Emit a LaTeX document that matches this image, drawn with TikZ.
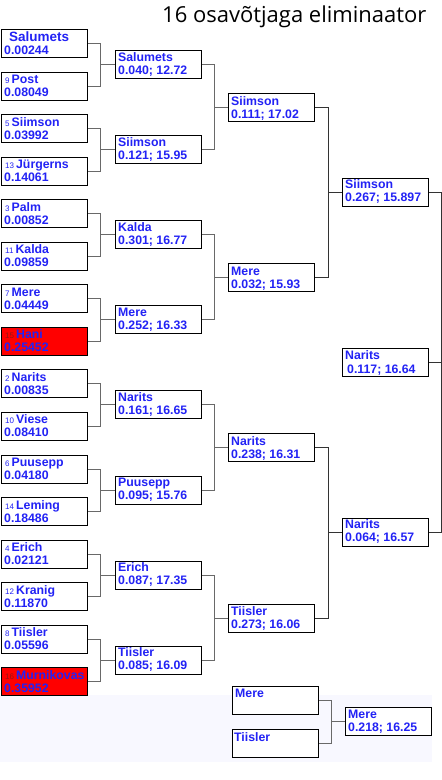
\documentclass[tikz,border=0pt]{standalone}
\usepackage{fontspec}
\setmainfont{Liberation Sans}
\newfontfamily\titlefont{Open Sans}
\usetikzlibrary{calc}
\definecolor{nameblue}{RGB}{34,34,245}
\definecolor{seedred}{RGB}{150,20,20}
\definecolor{lavender}{RGB}{248,248,255}
\definecolor{wiregray}{RGB}{105,105,105}
\newcommand{\seed}[1]{{\normalfont\fontsize{8}{9}\selectfont #1}\,}

\begin{document}
\begin{tikzpicture}[x=1pt,y=1pt,
  cell/.style={draw, line width=0.9pt, anchor=north west, minimum width=86pt, minimum height=28pt, inner sep=0pt},
  nm/.style={anchor=base west, inner sep=0pt, text=nameblue, font=\bfseries\fontsize{12.3}{14}\selectfont},
  wire/.style={draw=wiregray, line width=0.9pt},
  wire dark/.style={draw=black!80, line width=0.9pt}]
\useasboundingbox (0,0) rectangle (442,-780);
\fill[lavender] (0,-695) rectangle (432,-762);
\node[anchor=base west, inner sep=0pt, font=\titlefont\fontsize{22}{26}\selectfont] (title) at (162,-22) {16 osavõtjaga eliminaator};

% first round
\foreach \i/\pl/\sc/\fc in {0/{\hspace{4pt}\fontsize{13.5}{14}\selectfont Salumets}/0.00244/white,
  1/{\seed{9}Post}/0.08049/white, 2/{\seed{5}Siimson}/0.03992/white,
  3/{\seed{13}Jürgerns}/0.14061/white, 4/{\seed{3}Palm}/0.00852/white,
  5/{\seed{11}Kalda}/0.09859/white, 6/{\seed{7}Mere}/0.04449/white,
  7/{\seed{\color{seedred}15}Hani}/0.25452/red, 8/{\seed{2}Narits}/0.00835/white,
  9/{\seed{10}Viese}/0.08410/white, 10/{\seed{6}Puusepp}/0.04180/white,
  11/{\seed{14}Leming}/0.18486/white, 12/{\seed{4}Erich}/0.02121/white,
  13/{\seed{12}Kranig}/0.11870/white, 14/{\seed{8}Tiisler}/0.05596/white,
  15/{\seed{\color{seedred}16}Murnikovas}/0.35952/red}{
  \node[cell, fill=\fc] (a\i) at (1,{-29-42.55*\i}) {};
  \node[nm] (a\i-n) at ($(a\i.north west)+(4,-12)$) {\pl};
  \node[nm] (a\i-s) at ($(a\i.north west)+(3,-25)$) {\sc};
}

% second round
\foreach \i/\pl/\sc in {0/Salumets/0.040; 12.72, 1/Siimson/0.121; 15.95,
  2/Kalda/0.301; 16.77, 3/Mere/0.252; 16.33, 4/Narits/0.161; 16.65,
  5/Puusepp/0.095; 15.76, 6/Erich/0.087; 17.35, 7/Tiisler/0.085; 16.09}{
  \node[cell, fill=white] (b\i) at (115,{-50-85.1*\i}) {};
  \node[nm] (b\i-n) at ($(b\i.north west)+(3,-11)$) {\pl};
  \node[nm] (b\i-s) at ($(b\i.north west)+(3,-24)$) {\sc};
}
\foreach \k in {0,...,7}{
  \pgfmathtruncatemacro{\u}{2*\k}
  \pgfmathtruncatemacro{\v}{2*\k+1}
  \draw[wire] (a\u.east) -- ++(13,0) |- (b\k.west);
  \draw[wire] (a\v.east) -- ++(13,0) |- (b\k.west);
}

% third round
\foreach \i/\pl/\sc in {0/Siimson/0.111; 17.02, 1/Mere/0.032; 15.93,
  2/Narits/0.238; 16.31, 3/Tiisler/0.273; 16.06}{
  \node[cell, fill=white] (c\i) at (228,{-93-170.2*\i}) {};
  \node[nm] (c\i-n) at ($(c\i.north west)+(3,-12)$) {\pl};
  \node[nm] (c\i-s) at ($(c\i.north west)+(3,-25)$) {\sc};
}
\foreach \k in {0,...,3}{
  \pgfmathtruncatemacro{\u}{2*\k}
  \pgfmathtruncatemacro{\v}{2*\k+1}
  \draw[wire] (b\u.east) -- ++(13,0) |- (c\k.west);
  \draw[wire] (b\v.east) -- ++(13,0) |- (c\k.west);
}

% semifinal and final
\foreach \i/\y/\pl/\sc in {0/178/Siimson/0.267; 15.897, 1/518/Narits/0.064; 16.57}{
  \node[cell, fill=white] (d\i) at (342,-\y) {};
  \node[nm] (d\i-n) at ($(d\i.north west)+(3,-10)$) {\pl};
  \node[nm] (d\i-s) at ($(d\i.north west)+(3,-23)$) {\sc};
}
\draw[wire dark] (c0.east) -- ++(14,0) |- (d0.west);
\draw[wire dark] (c1.east) -- ++(14,0) |- (d0.west);
\draw[wire dark] (c2.east) -- ++(14,0) |- (d1.west);
\draw[wire dark] (c3.east) -- ++(14,0) |- (d1.west);

\node[cell, fill=white] (fin) at (342,-348) {};
\node[nm] (fin-n) at ($(fin.north west)+(3,-11)$) {Narits};
\node[nm] (fin-s) at ($(fin.north west)+(5,-25)$) {0.117; 16.64};
\draw[wire dark] (d0.east) -- ++(13,0) |- (fin.east);
\draw[wire dark] (d1.east) -- ++(13,0) |- (fin.east);

% third place
\node[cell, fill=white] (t0) at (232,-686) {};
\node[nm] (t0-n) at ($(t0.north west)+(3,-11)$) {Mere};
\node[cell, fill=white] (t1) at (232,-729) {};
\node[nm] (t1-n) at ($(t1.north west)+(2,-12)$) {Tiisler};
\node[cell, fill=white] (t2) at (345,-707) {};
\node[nm] (t2-n) at ($(t2.north west)+(3,-11)$) {Mere};
\node[nm] (t2-s) at ($(t2.north west)+(3,-24)$) {0.218; 16.25};
\draw[wire] (t0.east) -- ++(13,0) |- (t2.west);
\draw[wire] (t1.east) -- ++(13,0) |- (t2.west);
\end{tikzpicture}
\end{document}
